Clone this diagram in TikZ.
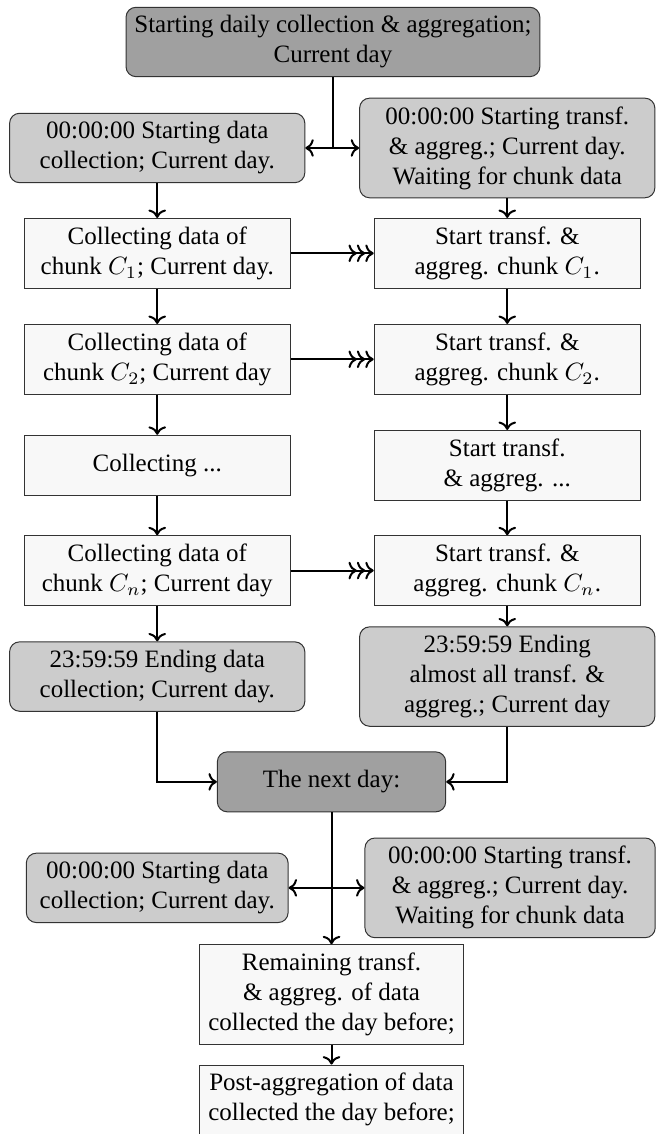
\documentclass[tikz,border=0pt]{standalone}
\usepackage{fontspec}
\setmainfont{Liberation Serif}
\usepackage{tikz}
\usetikzlibrary{arrows.meta,calc}
\definecolor{deep}{HTML}{A0A0A0}
\definecolor{mid}{HTML}{CCCCCC}
\definecolor{light}{HTML}{F8F8F8}
\tikzset{box/.style={draw=black!80,align=center,minimum height=24pt,inner sep=3.33pt}, dayphase/.style={box,fill=deep,rounded corners=4pt}, stage/.style={box,fill=mid,rounded corners=4pt,minimum width=4.15cm}, task/.style={box,fill=light,minimum width=3.74cm}, link/.style={-To,thick}, twoway/.style={To-To,thick}, handoff/.style={-{To[]To[]To[]},thick}}

\begin{document}
\begin{tikzpicture}
\useasboundingbox (0,0) rectangle (9.25,-15.94);
\node[dayphase,minimum width=5.79cm] (start) at (4.68,-0.59) {Starting daily collection \& aggregation;\\Current day};
\node[stage] (col0) at (2.21,-2.08) {00:00:00 Starting data\\collection; Current day.};
\node[stage] (agg0) at (7.13,-2.08) {00:00:00 Starting transf.\\\& aggreg.; Current day.\\Waiting for chunk data};
\node[task] (col1) at (2.21,-3.56) {Collecting data of\\chunk $C_1$; Current day.};
\node[task] (agg1) at (7.13,-3.56) {Start transf. \&\\aggreg. chunk $C_1$.};
\node[task] (col2) at (2.21,-5.05) {Collecting data of\\chunk $C_2$; Current day};
\node[task] (agg2) at (7.13,-5.05) {Start transf. \&\\aggreg. chunk $C_2$.};
\node[task] (col3) at (2.21,-6.54) {Collecting ...};
\node[task] (agg3) at (7.13,-6.54) {Start transf.\\\& aggreg. ...};
\node[task] (coln) at (2.21,-8.02) {Collecting data of\\chunk $C_n$; Current day};
\node[task] (aggn) at (7.13,-8.02) {Start transf. \&\\aggreg. chunk $C_n$.};
\node[stage] (colend) at (2.21,-9.51) {23:59:59 Ending data\\collection; Current day.};
\node[stage] (aggend) at (7.13,-9.51) {23:59:59 Ending\\almost all transf. \&\\aggreg.; Current day};
\node[dayphase,minimum width=3.21cm] (next) at (4.66,-10.99) {The next day:};
\node[stage,minimum width=3.68cm] (colnew) at (2.21,-12.48) {00:00:00 Starting data\\collection; Current day.};
\node[stage,minimum width=4.08cm] (aggnew) at (7.17,-12.48) {00:00:00 Starting transf.\\\& aggreg.; Current day.\\Waiting for chunk data};
\node[task,minimum width=3.71cm] (rest) at (4.66,-13.98) {Remaining transf.\\\& aggreg. of data\\collected the day before;};
\node[task,minimum width=3.71cm] (post) at (4.66,-15.46) {Post-aggregation of data\\collected the day before;};
\draw[thick] (start.south) -- (start.south |- col0.east);
\draw[twoway] (col0) -- (agg0);
\draw[link] (col0) -- (col1);
\draw[link] (col1) -- (col2);
\draw[link] (col2) -- (col3);
\draw[link] (col3) -- (coln);
\draw[link] (coln) -- (colend);
\draw[link] (agg0) -- (agg1);
\draw[link] (agg1) -- (agg2);
\draw[link] (agg2) -- (agg3);
\draw[link] (agg3) -- (aggn);
\draw[link] (aggn) -- (aggend);
\draw[handoff] (col1) -- (agg1);
\draw[handoff] (col2) -- (agg2);
\draw[handoff] (coln) -- (aggn);
\draw[link] (colend.south) |- (next.west);
\draw[link] (aggend.south) |- (next.east);
\draw[link] (next) -- (rest);
\draw[twoway] (colnew) -- (aggnew);
\draw[link] (rest) -- (post);
\end{tikzpicture}
\end{document}
